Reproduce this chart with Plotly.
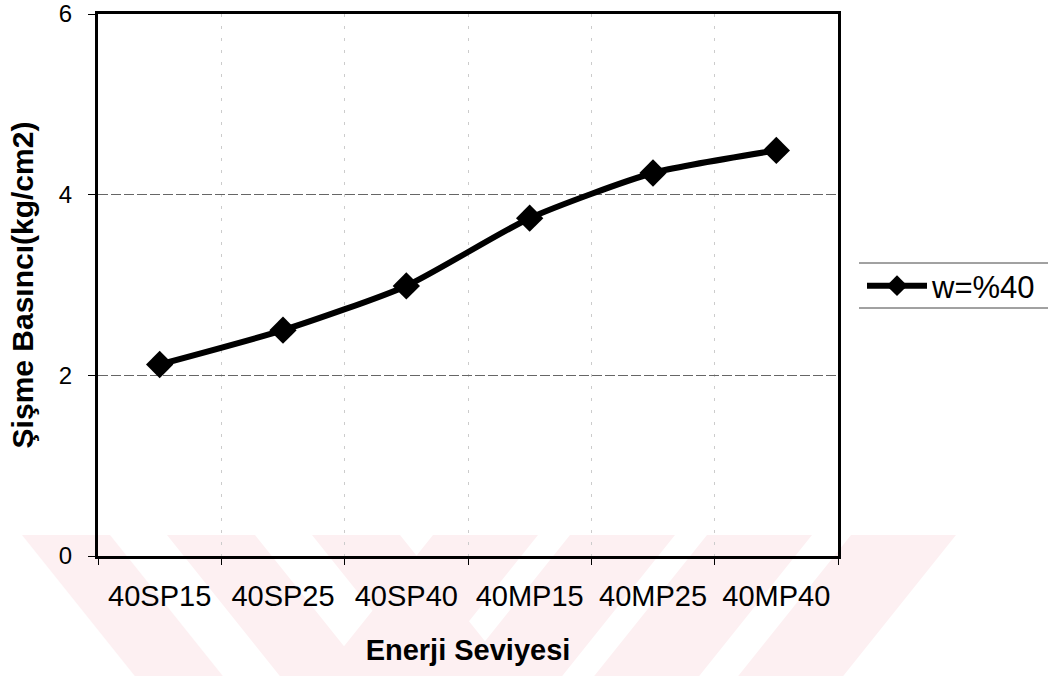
import plotly.graph_objects as go

# ---- data ----
categories = ["40SP15", "40SP25", "40SP40", "40MP15", "40MP25", "40MP40"]
swelling_pressure = [2.12, 2.50, 2.99, 3.74, 4.24, 4.49]
series_name = "w=%40"
y_ticks = [0, 2, 4, 6]
x_title = "Enerji Seviyesi"
y_title = "Şişme Basıncı(kg/cm2)"

# ---- layout geometry (pixels) ----
W, H = 1051, 676
L, R, T, B = 98, 838, 14, 556
FONT = "Liberation Sans, Arial, sans-serif"


def px(x):
    return (x - L) / (R - L)


def py(y):
    return (B - y) / (B - T)


fig = go.Figure()
fig.add_trace(go.Scatter(
    x=categories, y=swelling_pressure, name=series_name,
    mode="lines+markers",
    line=dict(color="black", width=6, shape="spline", smoothing=0.6),
    marker=dict(symbol="diamond", size=21, color="black"),
))

shapes = []
# faint watermark stripes (background decoration)
wm_color = "#fdf0f2"
y0, y1 = 535, 680
slope = 0.8
for xs, w in [(22, 88), (167, 88), (312, 88)]:
    d = (y1 - y0) * slope
    path = (f"M{px(xs)},{py(y0)} L{px(xs + w)},{py(y0)} "
            f"L{px(xs + w + d)},{py(y1)} L{px(xs + d)},{py(y1)} Z")
    shapes.append(dict(type="path", xref="paper", yref="paper", path=path,
                       fillcolor=wm_color, line=dict(width=0), layer="below"))
for xs, w in [(433, 105), (570, 105), (707, 105), (851, 105)]:
    d = (y1 - y0) * slope
    path = (f"M{px(xs)},{py(y0)} L{px(xs + w)},{py(y0)} "
            f"L{px(xs + w - d)},{py(y1)} L{px(xs - d)},{py(y1)} Z")
    shapes.append(dict(type="path", xref="paper", yref="paper", path=path,
                       fillcolor=wm_color, line=dict(width=0), layer="below"))

# legend frame lines (top & bottom)
for yy in (263, 308):
    shapes.append(dict(type="line", xref="paper", yref="paper",
                       x0=px(859), x1=px(1048), y0=py(yy), y1=py(yy),
                       line=dict(color="#444", width=1)))

fig.update_layout(
    width=W, height=H,
    margin=dict(l=L, r=W - R, t=T, b=H - B, autoexpand=False),
    paper_bgcolor="white", plot_bgcolor="white",
    font=dict(family=FONT, color="black"),
    showlegend=True,
    legend=dict(x=px(862), xanchor="left", y=py(286), yanchor="middle",
                font=dict(size=31, family=FONT), itemwidth=60,
                bgcolor="rgba(0,0,0,0)", borderwidth=0),
    shapes=shapes,
)

fig.update_xaxes(
    type="category", range=[-0.5, 5.5], automargin=False,
    showline=True, mirror=True, linecolor="black", linewidth=3,
    ticks="outside", tickson="boundaries", ticklen=6, tickcolor="black",
    showgrid=True, gridcolor="#cccccc", gridwidth=1, griddash="3px,9px",
    tickfont=dict(size=29, family=FONT), ticklabelstandoff=12,
    title=dict(text=f"<b>{x_title}</b>", font=dict(size=29, family=FONT),
               standoff=29),
)
fig.update_yaxes(
    range=[0, 6], tickvals=y_ticks, automargin=False,
    ticklabeloverflow="allow",
    showline=True, mirror=True, linecolor="black", linewidth=3,
    ticks="outside", ticklen=7, tickcolor="black",
    showgrid=True, gridcolor="#666666", gridwidth=1, griddash="10px,3px",
    zeroline=False,
    tickfont=dict(size=24, family=FONT), ticklabelstandoff=11,
    title=dict(text=f"<b>{y_title}</b>", font=dict(size=30, family=FONT),
               standoff=17),
)

fig.write_html("out.html")
